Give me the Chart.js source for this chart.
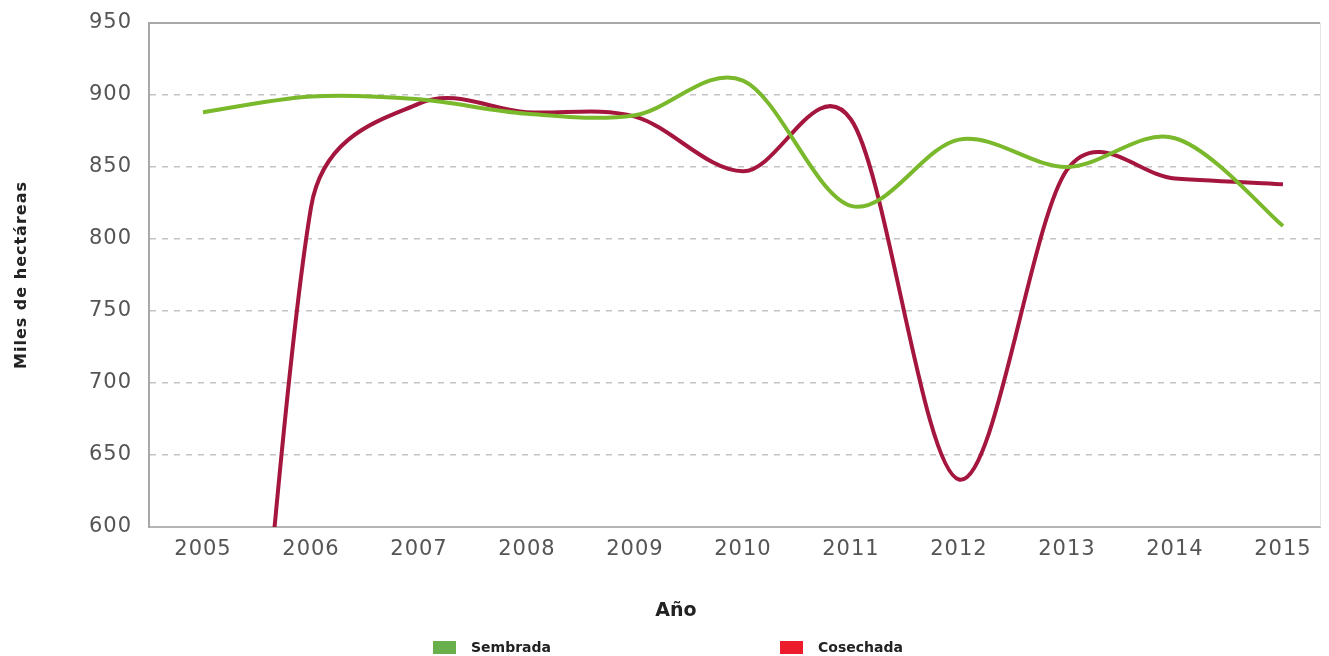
<!DOCTYPE html>
<html>
<head>
<meta charset="utf-8">
<script src="https://cdn.jsdelivr.net/npm/chart.js@4.4.1/dist/chart.umd.min.js"></script>
<style>
  html, body { margin: 0; padding: 0; background: #ffffff; }
  #wrap { width: 1329px; height: 656px; position: relative; }
</style>
</head>
<body>
<div id="wrap"><canvas id="c" width="1329" height="656"></canvas></div>
<script>
// ---- data ----
const years = [2005, 2006, 2007, 2008, 2009, 2010, 2011, 2012, 2013, 2014, 2015];
const sembrada = [888, 899, 897, 887, 886, 910, 823, 869, 850, 870, 809];
const cosechada = [0, 822, 894, 888, 885, 847, 883, 633, 848, 842, 838];
const yTicks = [600, 650, 700, 750, 800, 850, 900, 950];
const seriesNames = ['Sembrada', 'Cosechada'];
const xTitle = 'Año';
const yTitle = 'Miles de hectáreas';

const lineColors = ['#7ab82c', '#a5163e'];
const legendColors = ['#69b04c', '#ec1c2d'];

const toPoints = vals => years.map((yr, i) => ({ x: yr, y: vals[i] }));

// Spreadsheet-style smoothing: Bezier control points from neighbouring
// points (1/6 of the chord), capped at half of the segment length.
const smoothPlugin = {
  id: 'sheetSmooth',
  beforeDatasetDraw(chart, args) {
    const meta = args.meta;
    const line = meta.dataset;
    if (!line) return;
    line.updateControlPoints(chart.chartArea, meta.iScale.axis);
    const P = meta.data;
    const n = P.length;
    const dist = (a, b) => Math.hypot(b.x - a.x, b.y - a.y);
    for (let i = 0; i < n - 1; i++) {
      const p0 = P[i > 0 ? i - 1 : i];
      const p1 = P[i];
      const p2 = P[i + 1];
      const p3 = P[i + 2 < n ? i + 2 : i + 1];
      const d02 = dist(p0, p2), d12 = dist(p1, p2), d13 = dist(p1, p3);
      const f = (d02 / 6 < d12 / 2 || d02 === 0) ? 1 / 6 : d12 / (2 * d02);
      const g = (d13 / 6 < d12 / 2 || d13 === 0) ? 1 / 6 : d12 / (2 * d13);
      p1.cp2x = p1.x + (p2.x - p0.x) * f;
      p1.cp2y = p1.y + (p2.y - p0.y) * f;
      p2.cp1x = p2.x - (p3.x - p1.x) * g;
      p2.cp1y = p2.y - (p3.y - p1.y) * g;
    }
    line._path = undefined;
  }
};

// slightly wider letter spacing for axis texts (the reference font is wide)
const spacingPlugin = {
  id: 'axisSpacing',
  beforeDraw(chart) { chart.ctx.letterSpacing = '1px'; },
  beforeDatasetsDraw(chart) { chart.ctx.letterSpacing = '0px'; }
};

const bottomPlugin = {
  id: 'bottomTexts',
  afterDraw(chart) {
    const ctx = chart.ctx;
    const area = chart.chartArea;
    ctx.save();
    ctx.letterSpacing = '0px';
    ctx.strokeStyle = '#e6e6e6';
    ctx.lineWidth = 1;
    ctx.beginPath();
    ctx.moveTo(area.right + 0.5, area.top);
    ctx.lineTo(area.right + 0.5, area.bottom);
    ctx.stroke();
    ctx.fillStyle = '#222222';
    ctx.font = 'bold 19px "DejaVu Sans"';
    ctx.textAlign = 'center';
    ctx.textBaseline = 'middle';
    ctx.fillText(xTitle, 676, 611);
    ctx.font = 'bold 14px "DejaVu Sans"';
    ctx.textAlign = 'left';
    const boxX = [433, 780];
    chart.data.datasets.forEach((ds, i) => {
      ctx.fillStyle = legendColors[i];
      ctx.fillRect(boxX[i], 641, 23, 13);
      ctx.fillStyle = '#222222';
      ctx.fillText(ds.label, boxX[i] + 38, 648);
    });
    ctx.restore();
  }
};

const lineDataset = (i, vals) => ({
  label: seriesNames[i],
  data: toPoints(vals),
  borderColor: lineColors[i],
  backgroundColor: legendColors[i],
  borderWidth: 4,
  pointRadius: 0,
  tension: 0.4,
  capBezierPoints: false,
  fill: false
});

new Chart(document.getElementById('c'), {
  type: 'line',
  data: {
    datasets: [lineDataset(0, sembrada), lineDataset(1, cosechada)]
  },
  options: {
    responsive: false,
    animation: false,
    events: [],
    layout: { padding: { left: 0, right: 9, top: 23, bottom: 0 } },
    plugins: {
      legend: { display: false },
      title: { display: false },
      tooltip: { enabled: false }
    },
    scales: {
      x: {
        type: 'linear',
        min: years[0] - 0.5,
        max: years[years.length - 1] + 0.343,
        afterBuildTicks: s => { s.ticks = years.map(v => ({ value: v })); },
        afterFit: s => { s.height = 129; s.paddingLeft = 0; s.paddingRight = 0; },
        grid: { display: false, drawTicks: false },
        border: { display: true, color: '#b5b5b5', width: 2 },
        ticks: {
          autoSkip: false,
          maxRotation: 0,
          padding: 10,
          color: '#555555',
          font: { family: '"DejaVu Sans"', size: 21 },
          callback: v => String(v)
        }
      },
      y: {
        min: 600,
        max: 950,
        afterBuildTicks: s => { s.ticks = yTicks.map(v => ({ value: v })); },
        afterFit: s => { s.width = 149; s.paddingTop = 0; s.paddingBottom = 0; },
        grid: {
          drawTicks: false,
          color: ctx => (ctx.tick && (ctx.tick.value === 950)) ? '#a8a8a8' : '#c4c4c4',
          lineWidth: ctx => (ctx.tick && (ctx.tick.value === 950 || ctx.tick.value === 600)) ? 2 : 1.5
        },
        border: {
          display: true,
          color: '#a8a8a8',
          width: 2,
          dash: ctx => (ctx.tick && (ctx.tick.value === 950 || ctx.tick.value === 600)) ? [] : [6, 6]
        },
        ticks: {
          padding: 17,
          color: '#555555',
          font: { family: '"DejaVu Sans"', size: 21 }
        },
        title: {
          display: true,
          text: yTitle,
          color: '#222222',
          font: { family: '"DejaVu Sans"', size: 16, weight: 'bold' },
          padding: { top: 12, bottom: 4 }
        }
      }
    }
  },
  plugins: [smoothPlugin, spacingPlugin, bottomPlugin]
});
</script>
</body>
</html>
